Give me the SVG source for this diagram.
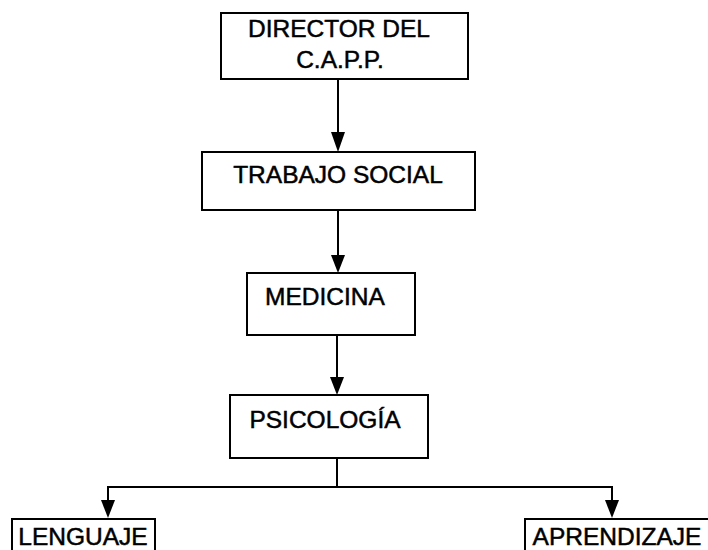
<svg xmlns="http://www.w3.org/2000/svg" width="708" height="550" viewBox="0 0 708 550">
<defs>
<style>
.box{fill:#fff;stroke:#000;stroke-width:2}
.t{font-family:"Liberation Sans",Arial,sans-serif;font-size:24.5px;fill:#000;stroke:#000;stroke-width:0.5;text-anchor:middle}
.c{fill:none;stroke:#000;stroke-width:2}
.ah{fill:#000}
</style>
</defs>
<rect width="708" height="550" fill="#fff"/>
<g id="connectors">
<path class="c" d="M338,79 V134"/>
<path class="ah" d="M331,132 L345,132 L338,152 Z"/>
<path class="c" d="M338,210 V257"/>
<path class="ah" d="M331,255 L345,255 L338,273 Z"/>
<path class="c" d="M337,335 V379"/>
<path class="ah" d="M330,377 L344,377 L337,395 Z"/>
<path class="c" d="M337,458 V487"/>
<path class="c" d="M108,502 V487 H612 V502"/>
<path class="ah" d="M101,500 L115,500 L108,518 Z"/>
<path class="ah" d="M605,500 L619,500 L612,518 Z"/>
</g>
<g id="director">
<rect class="box" x="221" y="13" width="247" height="66"/>
<text class="t" x="339" y="37">DIRECTOR DEL</text>
<text class="t" x="340" y="68">C.A.P.P.</text>
</g>
<g id="trabajo-social">
<rect class="box" x="202" y="152" width="273" height="58"/>
<text class="t" x="338" y="183">TRABAJO SOCIAL</text>
</g>
<g id="medicina">
<rect class="box" x="247" y="273" width="168" height="62"/>
<text class="t" x="325" y="305">MEDICINA</text>
</g>
<g id="psicologia">
<rect class="box" x="230" y="395" width="198" height="63"/>
<text class="t" x="325" y="428">PSICOLOGÍA</text>
</g>
<g id="lenguaje">
<rect class="box" x="12" y="519" width="143" height="40"/>
<text class="t" x="83" y="545">LENGUAJE</text>
</g>
<g id="aprendizaje">
<rect class="box" x="525" y="519" width="190" height="40"/>
<text class="t" x="617" y="545">APRENDIZAJE</text>
</g>
</svg>
